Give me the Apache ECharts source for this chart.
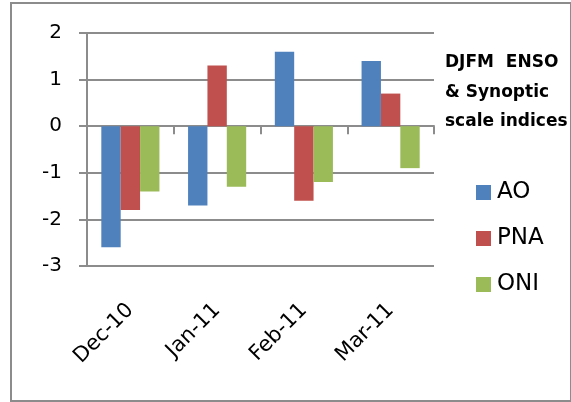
<!DOCTYPE html>
<html>
<head>
<meta charset="utf-8">
<script src="https://cdn.jsdelivr.net/npm/echarts@6/dist/echarts.min.js"></script>
<style>
html,body{margin:0;padding:0;background:#fff;}
#frame{position:absolute;left:10px;top:2px;width:558px;height:396px;border:2px solid #8c8c8c;}
#chart{position:absolute;left:0;top:0;width:571px;height:402px;}
</style>
</head>
<body>
<div id="frame"></div>
<div id="chart"></div>
<script>
const categories = ['Dec-10', 'Jan-11', 'Feb-11', 'Mar-11'];
const aoValues = [-2.6, -1.7, 1.6, 1.4];
const pnaValues = [-1.8, 1.3, -1.6, 0.7];
const oniValues = [-1.4, -1.3, -1.2, -0.9];
const yTicks = [-3, -2, -1, 0, 1, 2];
const titleLines = ['DJFM  ENSO', '& Synoptic', 'scale indices'];

const FONT = 'DejaVu Sans';
const GRAY = '#8c8c8c';
const chart = echarts.init(document.getElementById('chart'), null, {renderer: 'canvas'});
chart.setOption({
  animation: false,
  backgroundColor: 'transparent',
  title: {
    text: titleLines.join('\n'),
    left: 445, top: 48, padding: 0,
    textStyle: {fontFamily: FONT, fontSize: 17, fontWeight: 'bold', color: '#000', lineHeight: 29.5}
  },
  legend: {
    orient: 'vertical', left: 476, top: 181, padding: 0,
    itemWidth: 15, itemHeight: 15, itemGap: 23,
    icon: 'rect',
    textStyle: {fontFamily: FONT, fontSize: 23, color: '#000', lineHeight: 23, padding: [0,0,0,1]},
    data: ['AO', 'PNA', 'ONI']
  },
  grid: {left: 87, right: 137, top: 33, bottom: 136, containLabel: false},
  yAxis: {
    type: 'value', min: yTicks[0], max: yTicks[yTicks.length-1], interval: 1,
    axisLine: {show: true, lineStyle: {color: GRAY, width: 2}},
    axisTick: {show: true, length: 8, lineStyle: {color: GRAY, width: 2}},
    splitLine: {show: true, lineStyle: {color: GRAY, width: 2}},
    axisLabel: {fontFamily: FONT, fontSize: 20, color: '#000', margin: 25}
  },
  xAxis: [
    {
      type: 'category', data: categories, position: 'top',
      axisLine: {show: true, onZero: true, lineStyle: {color: GRAY, width: 2}},
      axisTick: {show: true, inside: true, length: 8, lineStyle: {color: GRAY, width: 2}},
      axisLabel: {show: false}, splitLine: {show: false}
    },
    {
      type: 'category', data: categories, position: 'bottom',
      axisLine: {show: false, onZero: false}, axisTick: {show: false},
      axisLabel: {fontFamily: FONT, fontSize: 21, color: '#000', rotate: 45, margin: 41, interval: 0},
      splitLine: {show: false}
    }
  ],
  series: [
    {name: 'AO', type: 'bar', data: aoValues, xAxisIndex: 0, barGap: '0%', barCategoryGap: '33%', itemStyle: {color: '#4F81BD'}},
    {name: 'PNA', type: 'bar', data: pnaValues, xAxisIndex: 0, barGap: '0%', barCategoryGap: '33%', itemStyle: {color: '#C0504D'}},
    {name: 'ONI', type: 'bar', data: oniValues, xAxisIndex: 0, barGap: '0%', barCategoryGap: '33%', itemStyle: {color: '#9BBB59'}}
  ]
});
</script>
</body>
</html>
